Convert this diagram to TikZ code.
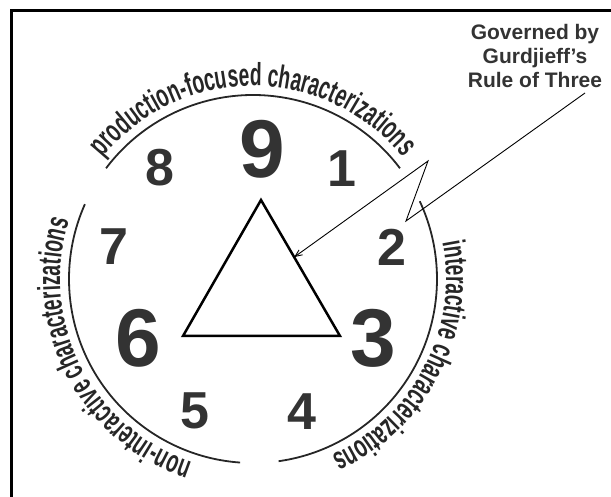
\documentclass[tikz,border=0pt]{standalone}
\usepackage{fontspec}
\setmainfont{Liberation Sans}
\newfontfamily\ringfont[FakeStretch=0.6]{Liberation Sans}
\usepackage{tikz}
\usetikzlibrary{arrows.meta, calc, decorations.text}
\newcommand\ringtext{\ringfont\bfseries\fontsize{32}{32}\selectfont}

\begin{document}
\begin{tikzpicture}[x=1pt, y=-1pt,
  ring/.style={line width=1.8pt, black!85},
  curvetext/.style={decorate, decoration={text along path, text align=center, text color=black!85}},
  num/.style={font=\fontsize{52}{52}\bfseries, text=black!80, inner sep=0pt},
  bignum/.style={num, font=\fontsize{82}{82}\bfseries},
  note/.style={font=\fontsize{21}{24}\bfseries, text=black!80, align=center},
  arr/.style={-{Straight Barb[length=7pt,width=6pt]}, line width=0.9pt}
]
\useasboundingbox (0,0) rectangle (611,497);
\draw[line width=3pt] (11,497) -- (11,10.5) -- (611,10.5);

\coordinate (c) at (253,279);
\draw[ring] (c) ++(-143:184) arc[start angle=-143, end angle=-37, radius=184];
\draw[ring] (c) ++(-25:184) arc[start angle=-25, end angle=82, radius=184];
\draw[ring] (c) ++(94:184) arc[start angle=94, end angle=204, radius=184];

\path[curvetext, decoration={text={|\ringtext|production-focused characterizations}}]
  (c) ++(-144:193) arc[start angle=-144, end angle=-36, radius=193];
\path[curvetext, decoration={text={|\ringtext|interactive characterizations}}]
  (c) ++(-14:193) arc[start angle=-14, end angle=69, radius=193];
\path[curvetext, decoration={text={|\ringtext|non-interactive characterizations}}]
  (c) ++(105:193) arc[start angle=105, end angle=201, radius=193];

\coordinate (top) at (261,200);
\coordinate (bl) at (183,336);
\coordinate (br) at (340,336);
\draw[line width=2.5pt] (top) -- (br) -- (bl) -- cycle;

\node[bignum] (n9) at (262,149) {9};
\node[num] (n1) at (342,169) {1};
\node[num] (n2) at (392,247) {2};
\node[bignum] (n3) at (373,338) {3};
\node[num] (n4) at (302,412) {4};
\node[num] (n5) at (195,411) {5};
\node[bignum] (n6) at (138,338) {6};
\node[num] (n7) at (114,247) {7};
\node[num] (n8) at (160,168) {8};

\node[note] (gov) at (535,56) {Governed by\\Gurdjieff’s\\Rule of Three};
\coordinate (tail) at (585,93);
\coordinate (k1) at (406,221);
\coordinate (k2) at (428,161);
\coordinate (hit) at ($(top)!0.42!(br)$);
\draw[arr] (tail) -- (k1) -- (k2) -- (hit);
\end{tikzpicture}
\end{document}
